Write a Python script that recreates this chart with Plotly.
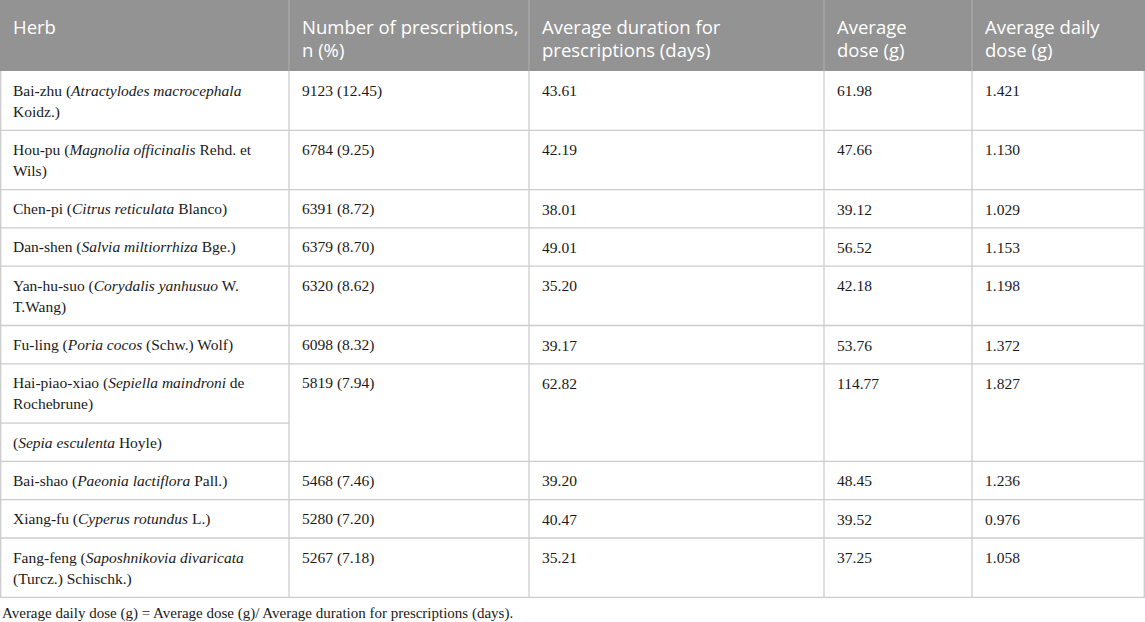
import plotly.graph_objects as go

# 表格数据
headers = ["Herb",
           "Number of prescriptions,<br>n (%)",
           "Average duration for<br>prescriptions (days)",
           "Average<br>dose (g)",
           "Average daily<br>dose (g)"]

# 每味药一行；海螵蛸一行含两个子单元格
herbs = [
    ["Bai-zhu (<i>Atractylodes macrocephala</i><br>Koidz.)"],
    ["Hou-pu (<i>Magnolia officinalis</i> Rehd. et<br>Wils)"],
    ["Chen-pi (<i>Citrus reticulata</i> Blanco)"],
    ["Dan-shen (<i>Salvia miltiorrhiza</i> Bge.)"],
    ["Yan-hu-suo (<i>Corydalis yanhusuo</i> W.<br>T.Wang)"],
    ["Fu-ling (<i>Poria cocos</i> (Schw.) Wolf)"],
    ["Hai-piao-xiao (<i>Sepiella maindroni</i> de<br>Rochebrune)",
     "(<i>Sepia esculenta</i> Hoyle)"],
    ["Bai-shao (<i>Paeonia lactiflora</i> Pall.)"],
    ["Xiang-fu (<i>Cyperus rotundus</i> L.)"],
    ["Fang-feng (<i>Saposhnikovia divaricata</i><br>(Turcz.) Schischk.)"],
]
n_prescriptions = [9123, 6784, 6391, 6379, 6320, 6098, 5819, 5468, 5280, 5267]
percent = [12.45, 9.25, 8.72, 8.70, 8.62, 8.32, 7.94, 7.46, 7.20, 7.18]
avg_duration = [43.61, 42.19, 38.01, 49.01, 35.20, 39.17, 62.82, 39.20, 40.47, 35.21]
avg_dose = [61.98, 47.66, 39.12, 56.52, 42.18, 53.76, 114.77, 48.45, 39.52, 37.25]
avg_daily = [1.421, 1.130, 1.029, 1.153, 1.198, 1.372, 1.827, 1.236, 0.976, 1.058]

footnote = "Average daily dose (g) = Average dose (g)/ Average duration for prescriptions (days)."

# 版式
W, H = 1145, 622
col_x = [0, 289, 529, 824, 972, 1145]
head_h = 71
line_h = 21
row_pad = 17.3
pad_x = 11
grid = "#cccccc"

head_font = dict(family="Open Sans", size=18.5, color="white")
body_font = dict(family="Liberation Serif", size=15.5, color="#1a1a1a")

shapes = []
annotations = []


def add_text(x, y_top, text, font, step, first):
    for i, part in enumerate(text.split("<br>")):
        annotations.append(dict(x=x, y=y_top + first + i * step, text=part,
                                xref="x", yref="y", xanchor="left",
                                yanchor="middle", showarrow=False, font=font))


def hline(y, x0, x1, color=grid):
    shapes.append(dict(type="line", xref="x", yref="y", x0=x0, x1=x1,
                       y0=y, y1=y, line=dict(color=color, width=1.3)))


def vline(x, y0, y1, color=grid):
    shapes.append(dict(type="line", xref="x", yref="y", x0=x, x1=x,
                       y0=y0, y1=y1, line=dict(color=color, width=1.3)))


# 表头
shapes.append(dict(type="rect", xref="x", yref="y", x0=0, x1=W, y0=0,
                   y1=head_h, fillcolor="#939393", line_width=0,
                   layer="below"))
for c, h in enumerate(headers):
    add_text(col_x[c] + pad_x, 0, h, head_font, 23.5, 26)

# 表体
y = head_h
for i, subs in enumerate(herbs):
    row_top = y
    for j, sub in enumerate(subs):
        n_lines = sub.count("<br>") + 1
        add_text(col_x[0] + pad_x, y, sub, body_font, line_h, 19.5)
        y += row_pad + line_h * n_lines
        if j < len(subs) - 1:
            hline(y, col_x[0], col_x[1])
    values = [f"{n_prescriptions[i]} ({percent[i]:.2f})",
              f"{avg_duration[i]:.2f}",
              f"{avg_dose[i]:.2f}",
              f"{avg_daily[i]:.3f}"]
    for c, v in enumerate(values, start=1):
        add_text(col_x[c] + pad_x, row_top, v, body_font, line_h, 19.5)
    hline(y, 0, W)
bottom = y

for x in col_x[1:-1]:
    vline(x, 0, head_h, "#a9a9a9")
    vline(x, head_h, bottom)
vline(0.7, head_h, bottom)
vline(W - 0.7, head_h, bottom)

add_text(0, bottom, footnote,
         dict(family="Liberation Serif", size=15, color="#1a1a1a"), 0, 16)

fig = go.Figure()
fig.update_layout(width=W, height=H,
                  margin=dict(l=0, r=0, t=0, b=0),
                  paper_bgcolor="white", plot_bgcolor="white",
                  shapes=shapes, annotations=annotations,
                  showlegend=False)
fig.update_xaxes(range=[0, W], visible=False, fixedrange=True)
fig.update_yaxes(range=[H, 0], visible=False, fixedrange=True)

# 去掉页面默认边距，使图形贴齐窗口左上角
fig.write_html("out.html", config={"displayModeBar": False},
               post_script="document.body.style.margin='0';")
